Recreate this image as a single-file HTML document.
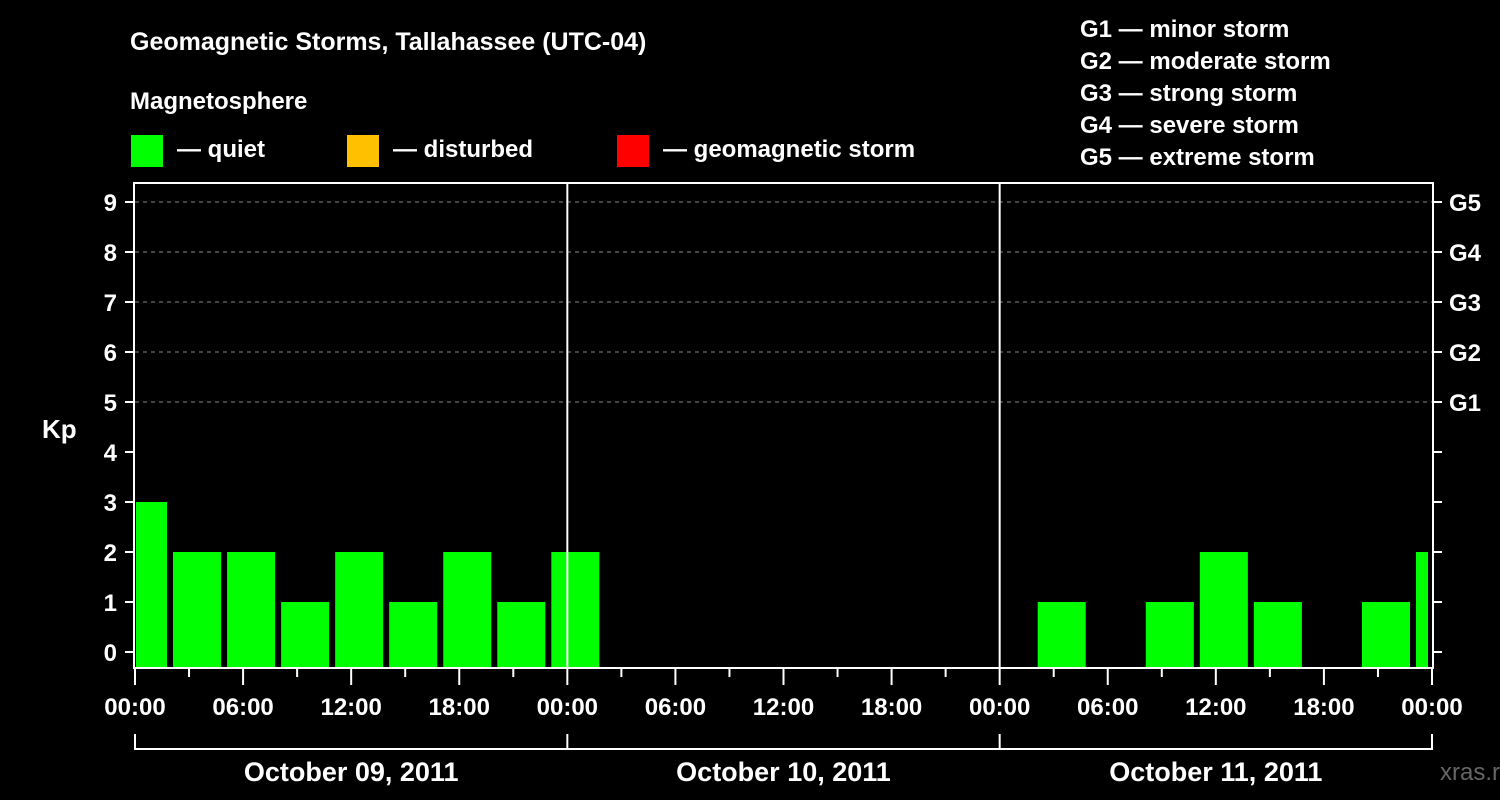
<!DOCTYPE html>
<html><head><meta charset="utf-8"><style>
body{margin:0;background:#000;}
svg{display:block;font-family:"Liberation Sans",Arial,sans-serif;font-weight:bold;}
</style></head><body>
<svg id="chart" width="1500" height="800" viewBox="0 0 1500 800">
<rect width="1500" height="800" fill="#000"/>
<text x="130" y="50" fill="#fff" font-size="25">Geomagnetic Storms, Tallahassee (UTC-04)</text>
<text x="130" y="109" fill="#fff" font-size="24">Magnetosphere</text>
<g><rect x="131" y="135" width="32" height="32" fill="#00ff00"/><text x="177" y="157" fill="#fff" font-size="24">— quiet</text></g>
<g><rect x="347" y="135" width="32" height="32" fill="#ffc000"/><text x="393" y="157" fill="#fff" font-size="24">— disturbed</text></g>
<g><rect x="617" y="135" width="32" height="32" fill="#ff0000"/><text x="663" y="157" fill="#fff" font-size="24">— geomagnetic storm</text></g>
<g fill="#fff" font-size="24">
<text x="1080" y="37">G1 — minor storm</text>
<text x="1080" y="69">G2 — moderate storm</text>
<text x="1080" y="101">G3 — strong storm</text>
<text x="1080" y="133">G4 — severe storm</text>
<text x="1080" y="165">G5 — extreme storm</text>
</g>
<text x="42" y="438" fill="#fff" font-size="26">Kp</text>
<text x="1440" y="780" fill="#666" font-size="24" font-weight="normal">xras.ru</text>
<g id="g"></g>
</svg>
<script>
const startHours=[-1,2,5,8,11,14,17,20,23,50,56,59,62,68,71];
const kpValues=[3,2,2,1,2,1,2,1,2,1,1,2,1,1,2];
const dayLabels=["October 09, 2011","October 10, 2011","October 11, 2011"];
const hourLabels=["00:00","06:00","12:00","18:00"];
const gLabels=["G1","G2","G3","G4","G5"];
const X0=135,X1=1432,TOP=183,BOT=668,Y0=652,UNIT=50,HOURS=72;
const x=h=>X0+(X1-X0)*h/HOURS;
const y=v=>Y0-v*UNIT;
const g=document.getElementById('g');
const NS="http://www.w3.org/2000/svg";
function mk(t,a,p){const e=document.createElementNS(NS,t);for(const k in a)e.setAttribute(k,a[k]);(p||g).appendChild(e);return e;}
// grid
for(let v=5;v<=9;v++){const l=mk('line',{x1:X0,x2:X1,y1:y(v),y2:y(v),stroke:'#888','stroke-dasharray':'4,4','stroke-width':1});

}
// bars
startHours.forEach((s,i)=>{const a=Math.max(0,s),b=Math.min(HOURS,s+3);
const xa=x(a)+(s<0?1:2),xb=x(b)-(s+3>HOURS?4:4);
const r=mk('rect',{x:xa,y:y(kpValues[i]),width:xb-xa,height:BOT-y(kpValues[i]),fill:'#00ff00'});

});
// day separators
for(let d=1;d<3;d++){const l=mk('line',{x1:x(d*24),x2:x(d*24),y1:TOP,y2:BOT,stroke:'#fff','stroke-width':2});

}
// frame
const f=mk('rect',{x:X0-1,y:TOP,width:X1-X0+2,height:BOT-TOP,fill:'none',stroke:'#fff','stroke-width':2});


// y ticks
for(let v=0;v<=9;v++){
mk('line',{x1:X0-10,x2:X0-2,y1:y(v),y2:y(v),stroke:'#fff','stroke-width':2});
mk('line',{x1:X1+2,x2:X1+10,y1:y(v),y2:y(v),stroke:'#fff','stroke-width':2});
const t=mk('text',{x:X0-18,y:y(v)+9,fill:'#fff','font-size':24,'text-anchor':'end'});t.textContent=v;

}
gLabels.forEach((s,i)=>{const t=mk('text',{x:1449,y:y(5+i)+9,fill:'#fff','font-size':24});t.textContent=s;

});
// x ticks
for(let h=0;h<=HOURS;h+=3){const maj=h%6===0;
mk('line',{x1:x(h),x2:x(h),y1:BOT+1,y2:BOT+(maj?17:9),stroke:'#fff','stroke-width':2});
if(maj){const t=mk('text',{x:x(h),y:715,fill:'#fff','font-size':24,'text-anchor':'middle'});t.textContent=hourLabels[(h%24)/6];

}}
// day brackets
mk('line',{x1:X0,x2:X1,y1:749,y2:749,stroke:'#fff','stroke-width':2});
for(let d=0;d<=3;d++)mk('line',{x1:x(d*24),x2:x(d*24),y1:734,y2:750,stroke:'#fff','stroke-width':2});
dayLabels.forEach((s,i)=>{const t=mk('text',{x:x(i*24+12),y:781,fill:'#fff','font-size':27,'text-anchor':'middle'});t.textContent=s;

});
</script>
</body></html>
